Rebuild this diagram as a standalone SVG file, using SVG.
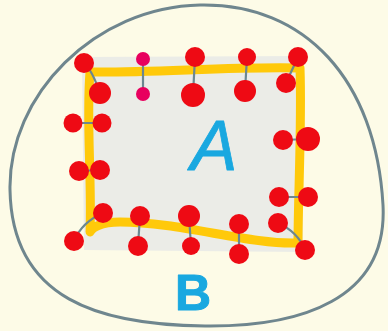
<svg xmlns="http://www.w3.org/2000/svg" width="388" height="331" viewBox="0 0 388 331">
<style>
.atom{fill:#ee0a14}
.pink{fill:#e8005e}
.bond{stroke:#6b8790;stroke-width:2.2;fill:none;stroke-linecap:round}
.lbl{font-family:"Liberation Sans",Arial,sans-serif;fill:#19a8e0;stroke:#19a8e0;stroke-linejoin:round}
</style>
<rect width="388" height="331" fill="#fdfbe7"/>
<g id="B">
<path d="M 200 5 C 305 3, 376 80, 383 205 C 388 300, 300 327, 205 326 C 100 325, 12 300, 10 190 C 8 95, 95 7, 200 5 Z" fill="none" stroke="#6f868e" stroke-width="3"/>
<text class="lbl" x="193" y="310" font-size="50" text-anchor="middle" font-weight="bold" stroke-width="1">B</text>
</g>
<g id="A">
<path d="M 82 57 L 302 56 L 303 252 L 84 250 Z" fill="#ebece7"/>
<path d="M 90 72 C 150 73, 240 66, 300 68 C 302 120, 298 200, 298 243 C 250 245, 180 222, 120 222 C 100 222, 92 228, 90 232 C 92 180, 86 120, 90 72 Z" fill="none" stroke="#ffc90a" stroke-width="9" stroke-linejoin="round"/>
<text class="lbl" x="214" y="170" font-size="70" text-anchor="middle" font-style="italic" stroke-width="0.8">A</text>
</g>
<g id="connectors">
<path class="bond" d="M 84 63 Q 92 70 100 93"/>
<path class="bond" d="M 143 59 L 143 94"/>
<path class="bond" d="M 195 57 L 193 95"/>
<path class="bond" d="M 247 57 L 245 91"/>
<path class="bond" d="M 298 57 L 286 83"/>
<path class="bond" d="M 73 123 L 102 123"/>
<path class="bond" d="M 79 171 L 100 170"/>
<path class="bond" d="M 283 140 L 308 139"/>
<path class="bond" d="M 279 197 L 308 197"/>
<path class="bond" d="M 103 213 Q 82 222 74 241"/>
<path class="bond" d="M 140 216 L 138 246"/>
<path class="bond" d="M 189 216 L 191 246"/>
<path class="bond" d="M 239 224 L 239 254"/>
<path class="bond" d="M 278 223 Q 298 232 305 250"/>
</g>
<g id="atoms">
<circle class="atom" cx="84" cy="63" r="10"/>
<circle class="atom" cx="100" cy="93" r="11"/>
<circle class="pink" cx="143" cy="59" r="7"/>
<circle class="pink" cx="143" cy="94" r="7"/>
<circle class="atom" cx="195" cy="57" r="10"/>
<circle class="atom" cx="193" cy="95" r="12"/>
<circle class="atom" cx="247" cy="57" r="9"/>
<circle class="atom" cx="245" cy="91" r="11"/>
<circle class="atom" cx="298" cy="57" r="10"/>
<circle class="atom" cx="286" cy="83" r="10"/>
<circle class="atom" cx="73" cy="123" r="9.5"/>
<circle class="atom" cx="102" cy="123" r="9.5"/>
<circle class="atom" cx="79" cy="171" r="10"/>
<circle class="atom" cx="100" cy="170" r="10"/>
<circle class="atom" cx="283" cy="140" r="10"/>
<circle class="atom" cx="308" cy="139" r="12"/>
<circle class="atom" cx="279" cy="197" r="10"/>
<circle class="atom" cx="308" cy="197" r="10"/>
<circle class="atom" cx="103" cy="213" r="10"/>
<circle class="atom" cx="74" cy="241" r="10"/>
<circle class="atom" cx="140" cy="216" r="10"/>
<circle class="atom" cx="138" cy="246" r="10"/>
<circle class="atom" cx="189" cy="216" r="11"/>
<circle class="atom" cx="191" cy="246" r="9"/>
<circle class="atom" cx="239" cy="224" r="10"/>
<circle class="atom" cx="239" cy="254" r="10"/>
<circle class="atom" cx="278" cy="223" r="10"/>
<circle class="atom" cx="305" cy="250" r="10"/>
</g>
</svg>
